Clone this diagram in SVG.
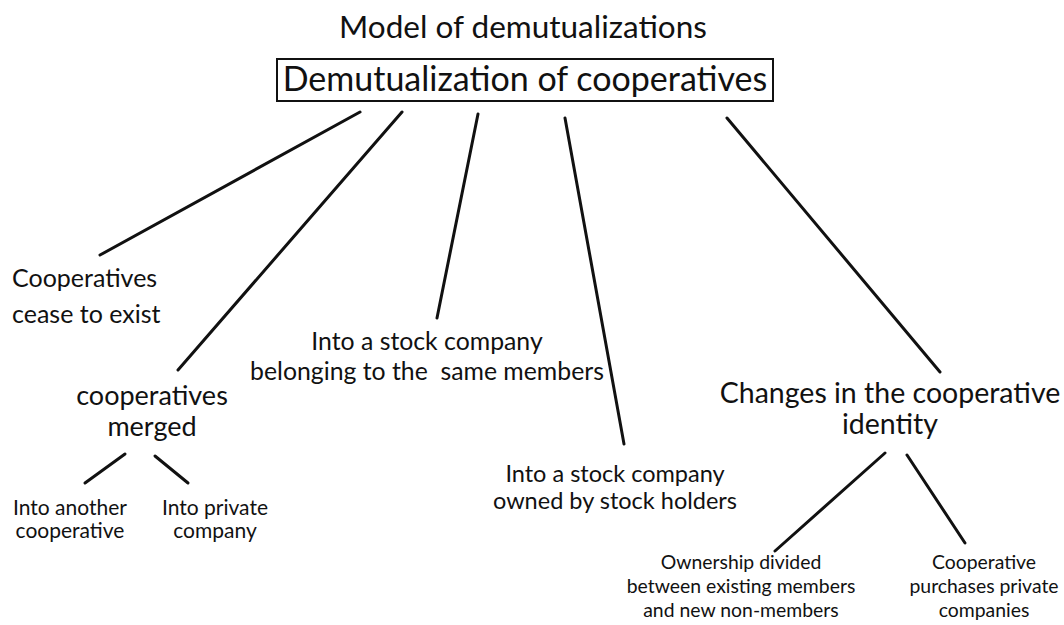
<svg xmlns="http://www.w3.org/2000/svg" width="1064" height="625" viewBox="0 0 1064 625">
<style>
text{font-family:Lato,"Open Sans","DejaVu Sans",sans-serif;fill:#111;text-anchor:middle}
.t1{font-size:31.5px}
.t2{font-size:34px}
.l{font-size:25px}
.l2{font-size:27px}
.l3{font-size:28.5px}
.m{font-size:24.8px}
.m2{font-size:23.5px}
.s{font-size:21px}
.s2{font-size:19.4px}
.c line{stroke:#111;stroke-width:3;stroke-linecap:round}
</style>
<rect width="1064" height="625" fill="#fff"/>
<g id="title"><text class="t1" x="523" y="38">Model of demutualizations</text></g>
<g id="root">
<rect x="277" y="59" width="496" height="42" fill="none" stroke="#111" stroke-width="2"/>
<text class="t2" x="525" y="91">Demutualization of cooperatives</text>
</g>
<g class="c" id="connectors">
<line x1="360" y1="112" x2="100" y2="255"/>
<line x1="402" y1="112" x2="178" y2="370"/>
<line x1="478" y1="114" x2="437" y2="318"/>
<line x1="565" y1="118" x2="624" y2="444"/>
<line x1="727" y1="118" x2="940" y2="372"/>
<line x1="125" y1="454" x2="85" y2="483"/>
<line x1="155" y1="456" x2="188" y2="483"/>
<line x1="885" y1="453" x2="775" y2="551"/>
<line x1="907" y1="455" x2="965" y2="543"/>
</g>
<g id="n1"><text class="l" x="12" y="287" style="text-anchor:start">Cooperatives</text><text class="l" x="12" y="323" style="text-anchor:start">cease to exist</text></g>
<g id="n2"><text class="l2" x="152" y="405">cooperatives</text><text class="l2" x="152" y="436">merged</text></g>
<g id="n2a"><text class="s" x="70" y="515">Into another</text><text class="s" x="70" y="538">cooperative</text></g>
<g id="n2b"><text class="s" x="215" y="515">Into private</text><text class="s" x="215" y="538">company</text></g>
<g id="n3"><text class="m" x="427" y="350">Into a stock company</text><text class="m" x="427" y="380" xml:space="preserve">belonging to the  same members</text></g>
<g id="n4"><text class="m2" x="615" y="482">Into a stock company</text><text class="m2" x="615" y="509">owned by stock holders</text></g>
<g id="n5"><text class="l3" x="890" y="403">Changes in the cooperative</text><text class="l3" x="890" y="434">identity</text></g>
<g id="n5a"><text class="s2" x="741" y="569">Ownership divided</text><text class="s2" x="741" y="593">between existing members</text><text class="s2" x="741" y="617">and new non-members</text></g>
<g id="n5b"><text class="s2" x="984" y="569">Cooperative</text><text class="s2" x="984" y="593">purchases private</text><text class="s2" x="984" y="617">companies</text></g>
</svg>
